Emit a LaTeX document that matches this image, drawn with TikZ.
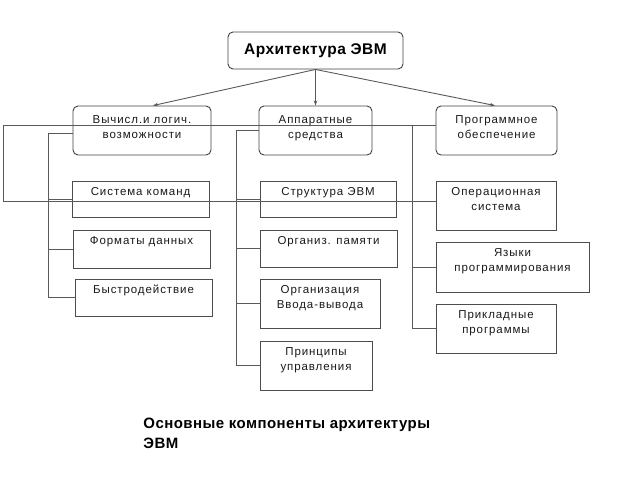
\documentclass[tikz,border=0pt]{standalone}
\usepackage{fontspec}
\setmainfont{Liberation Sans}
\newfontfamily\bxfont[LetterSpace=8]{Liberation Sans}
\newfontfamily\ttlfont[LetterSpace=3]{Liberation Sans}
\usetikzlibrary{arrows.meta}
\begin{document}
\begin{tikzpicture}[x=1pt,y=-1pt,
  line width=0.9pt,
  ln/.style={draw=black!65, line width=0.9pt},
  rbox/.style={draw=black!75, rounded corners=5pt, inner sep=0pt},
  sbox/.style={draw=black!70, inner sep=0pt},
  txt/.style={anchor=north, inner sep=0pt, align=center, font=\bxfont\fontsize{11.5}{15}\selectfont, text=black!90},
  arr/.style={ln, -{Stealth[length=5pt,width=3.5pt]}}
]
\useasboundingbox (0,0) rectangle (640,480);
% top
\node[rbox, minimum width=175pt, minimum height=37pt, font=\ttlfont\bfseries\fontsize{15.5}{18}\selectfont] (top) at (315.5,50.5) {Архитектура ЭВМ};
% level 1
\node[rbox, minimum width=138pt, minimum height=49pt] (vl) at (142,130.5) {};
\node[rbox, minimum width=113pt, minimum height=49pt] (vm) at (315.5,130.5) {};
\node[rbox, minimum width=121pt, minimum height=49pt] (vr) at (496.5,130.5) {};
\node[txt, yshift=-8.5pt] (vlt) at (vl.north) {\rule{0pt}{9pt}Вычисл.и логич.\\возможности};
\node[txt, yshift=-8.5pt] (vmt) at (vm.north) {\rule{0pt}{9pt}Аппаратные\\средства};
\node[txt, yshift=-8.5pt] (vrt) at (vr.north) {\rule{0pt}{9pt}Программное\\обеспечение};
% left column
\node[sbox, minimum width=137pt, minimum height=36pt] (b1) at (140.5,199) {};
\node[sbox, minimum width=137pt, minimum height=38pt] (b2) at (141.5,249) {};
\node[sbox, minimum width=137pt, minimum height=37pt] (b3) at (143.5,297.5) {};
\node[txt, yshift=-5.5pt] (b1t) at (b1.north) {\rule{0pt}{9pt}Система команд};
\node[txt, yshift=-5.5pt] (b2t) at (b2.north) {\rule{0pt}{9pt}Форматы данных};
\node[txt, yshift=-5.5pt] (b3t) at (b3.north) {\rule{0pt}{9pt}Быстродействие};
% middle column
\node[sbox, minimum width=136pt, minimum height=36pt] (m1) at (328,199) {};
\node[sbox, minimum width=137pt, minimum height=37pt] (m2) at (328.5,248.5) {};
\node[sbox, minimum width=120pt, minimum height=49pt] (m3) at (320,303.5) {};
\node[sbox, minimum width=112pt, minimum height=49pt] (m4) at (316,365.5) {};
\node[txt, yshift=-5.5pt] (m1t) at (m1.north) {\rule{0pt}{9pt}Структура ЭВМ};
\node[txt, yshift=-5.5pt] (m2t) at (m2.north) {\rule{0pt}{9pt}Организ. памяти};
\node[txt, yshift=-5.5pt] (m3t) at (m3.north) {\rule{0pt}{9pt}Организация\\Ввода-вывода};
\node[txt, yshift=-5.5pt] (m4t) at (m4.north) {\rule{0pt}{9pt}Принципы\\управления};
% right column
\node[sbox, minimum width=120pt, minimum height=49pt] (r1) at (496,205.5) {};
\node[sbox, minimum width=153pt, minimum height=50pt] (r2) at (512.5,267) {};
\node[sbox, minimum width=120pt, minimum height=49pt] (r3) at (496,328.5) {};
\node[txt, yshift=-5.5pt] (r1t) at (r1.north) {\rule{0pt}{9pt}Операционная\\система};
\node[txt, yshift=-5.5pt] (r2t) at (r2.north) {\rule{0pt}{9pt}Языки\\программирования};
\node[txt, yshift=-5.5pt] (r3t) at (r3.north) {\rule{0pt}{9pt}Прикладные\\программы};
% caption
\node[anchor=north west, inner sep=0pt, align=left, font=\ttlfont\bfseries\fontsize{15}{20}\selectfont] (cap) at (143,418) {Основные компоненты архитектуры\\ЭВМ};
% arrows
\draw[arr] (top.south) -- ([xshift=11pt]vl.north);
\draw[arr] (top.south) -- (vm.north);
\draw[arr] (top.south) -- ([xshift=-1.5pt]vr.north);
% bus coordinates
\coordinate (xL) at (48,0);
\coordinate (xM) at (236,0);
\coordinate (xR) at (412,0);
\coordinate (xF) at (3,0);
% left tree
\draw[ln] ([yshift=-2.5pt]vl.west) -- ([yshift=-2.5pt]vl.west -| xL) -- (b3.west -| xL) -- (b3.west);
\draw[ln] (b1.west -| xL) -- (b1.west);
\draw[ln] (b2.west -| xL) -- (b2.west);
% middle tree
\draw[ln] (vm.west) -- (vm.west -| xM) -- (m4.west -| xM) -- (m4.west);
\draw[ln] (m1.west -| xM) -- (m1.west);
\draw[ln] (m2.west -| xM) -- (m2.west);
\draw[ln] (m3.west -| xM) -- (m3.west);
% right tree
\draw[ln] ([yshift=5.5pt]vr.west -| xR) -- (r3.west -| xR) -- (r3.west);
\draw[ln] (r2.west -| xR) -- (r2.west);
% long loop
\draw[ln] ([yshift=5.5pt]vr.west) -- ([yshift=5.5pt]vr.west -| xF) -- ([yshift=4.5pt]r1.west -| xF) -- ([yshift=4.5pt]r1.west);
\end{tikzpicture}
\end{document}
